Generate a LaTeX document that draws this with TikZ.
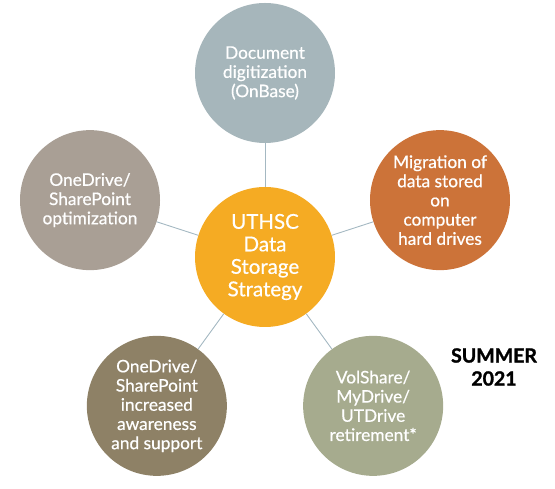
\documentclass[tikz,border=0pt]{standalone}
\usepackage{fontspec}
\setmainfont[FakeBold=0.6]{Lato}
\newfontfamily\heavy[FakeBold=1.5]{Lato Bold}
\definecolor{cCenter}{HTML}{F5AB23}
\definecolor{cTop}{HTML}{A6B6BB}
\definecolor{cRight}{HTML}{CC7339}
\definecolor{cBR}{HTML}{A6AB8E}
\definecolor{cBL}{HTML}{8E8166}
\definecolor{cLeft}{HTML}{A99F95}
\definecolor{cLink}{HTML}{A4B8C2}
\begin{document}
\begin{tikzpicture}[x=1pt,y=1pt]
\useasboundingbox (0,0) rectangle (555,489);
\tikzset{
  bubble/.style={circle, minimum size=140pt, inner sep=0pt, text=white, align=center,
    font=\fontsize{17.3}{19.2}\selectfont},
  hub/.style={bubble, fill=cCenter, font=\fontsize{20.5}{22.5}\selectfont},
  link/.style={draw=cLink, line width=0.9pt},
  note/.style={align=center, text=black, font=\fontsize{19.5}{23}\selectfont\heavy}
}
\node[hub] (c) at (265,232) {UTHSC\\Data\\Storage\\Strategy};
\node[bubble, fill=cTop] (t) at ([shift={(90:184)}]c) {Document\\digitization\\(OnBase)};
\node[bubble, fill=cRight] (r) at ([shift={(18:184)}]c) {Migration of\\data stored\\on\\computer\\hard drives};
\node[bubble, fill=cBR] (br) at ([shift={(-54:184)}]c) {VolShare/\\MyDrive/\\UTDrive\\retirement*};
\node[bubble, fill=cBL] (bl) at ([shift={(-126:184)}]c) {OneDrive/\\SharePoint\\increased\\awareness\\and support};
\node[bubble, fill=cLeft] (l) at ([shift={(162:184)}]c) {OneDrive/\\SharePoint\\optimization};
\foreach \n in {t,r,br,bl,l} \draw[link] (c) -- (\n);
\node[note] (s) at (494,122) {SUMMER\\2021};
\end{tikzpicture}
\end{document}
